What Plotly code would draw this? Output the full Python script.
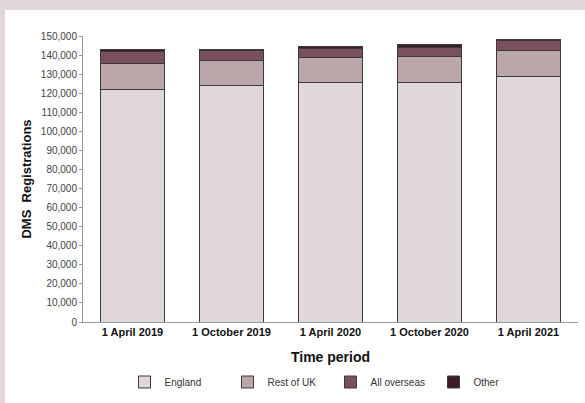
import plotly.graph_objects as go

periods = ["1 April 2019", "1 October 2019", "1 April 2020", "1 October 2020", "1 April 2021"]
england = [122000, 124300, 125500, 125500, 129000]
rest_of_uk = [13700, 13100, 13300, 13800, 13300]
all_overseas = [6200, 4900, 4700, 4900, 5400]
other = [1100, 700, 900, 1100, 500]

series_names = ["England", "Rest of UK", "All overseas", "Other"]
series_values = [england, rest_of_uk, all_overseas, other]
series_colors = ["#dfd7d9", "#bba6a9", "#7b505d", "#3d1b27"]

fig = go.Figure()
for name, vals, col in zip(series_names, series_values, series_colors):
    fig.add_trace(go.Bar(
        x=periods, y=vals, name=name,
        marker=dict(color=col, line=dict(color="#3a3a3a", width=1)),
    ))

L, R, T, B = 83, 7, 36, 81
W, H = 585, 403
pw, ph = W - L - R, H - T - B

def px_x(px):
    return (px - L) / pw

def px_y(py):
    return (H - B - py) / ph

band = "#e0d8da"
# top band and left strip of the framed background
fig.add_shape(type="rect", xref="paper", yref="paper",
              x0=px_x(-5), x1=px_x(W + 5), y0=px_y(10), y1=px_y(-5),
              fillcolor=band, line=dict(width=0), layer="below")
fig.add_shape(type="rect", xref="paper", yref="paper",
              x0=px_x(-5), x1=px_x(5), y0=px_y(H + 5), y1=px_y(-5),
              fillcolor=band, line=dict(width=0), layer="below")

fig.update_layout(
    width=W, height=H,
    margin=dict(l=L, r=R, t=T, b=B, autoexpand=False),
    barmode="stack", bargap=0.36,
    paper_bgcolor="white", plot_bgcolor="white",
    font=dict(family="Liberation Sans, Arial, sans-serif", color="#222"),
    showlegend=True,
    legend=dict(orientation="h", x=0.5, xanchor="center", y=px_y(382), yanchor="middle",
                font=dict(size=10, color="#333"), itemwidth=30, entrywidth=58,
                bgcolor="rgba(0,0,0,0)", traceorder="normal"),
)
fig.update_xaxes(
    automargin=False,
    showline=True, linecolor="#999", linewidth=1, ticks="",
    tickfont=dict(size=11, color="#111"),
    tickprefix="<b>", ticksuffix="</b>",
    title=dict(text="<b>Time period</b>", font=dict(size=14, color="#111"), standoff=14),
)
fig.update_yaxes(
    automargin=False,
    range=[0, 150000], dtick=10000, tickformat=",",
    showline=True, linecolor="#999", linewidth=1, ticks="outside", ticklen=3, tickcolor="#999",
    showgrid=False, zeroline=False,
    tickfont=dict(size=10, color="#444"),
    title=dict(text="<b>DMS\u00a0\u00a0Registrations</b>", font=dict(size=13, color="#111"), standoff=6),
)

fig.write_html("out.html", config={"displayModeBar": False},
               post_script="document.body.style.margin='0';document.body.style.overflow='hidden';")
